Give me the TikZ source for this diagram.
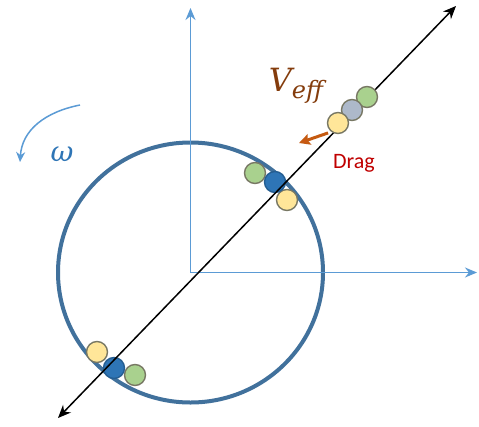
\documentclass[tikz,border=0pt]{standalone}
\usepackage{fontspec}
\newfontfamily\dragfont{Carlito}
\newfontfamily\symfont{DejaVu Serif}
\usepackage{tikz}
\usetikzlibrary{arrows.meta,positioning}
\definecolor{AxisBlue}{RGB}{91,155,213}
\definecolor{RingBlue}{RGB}{65,113,156}
\definecolor{BallGreen}{RGB}{169,209,142}
\definecolor{BallYellow}{RGB}{255,230,153}
\definecolor{BallGray}{RGB}{173,185,202}
\definecolor{BallBlue}{RGB}{46,117,182}
\definecolor{BallEdge}{RGB}{120,120,100}
\definecolor{DragOrange}{RGB}{197,90,17}
\definecolor{DragTip}{RGB}{230,70,30}
\definecolor{VeffBrown}{RGB}{132,60,12}
\definecolor{DragRed}{RGB}{192,0,0}
\begin{document}
\begin{tikzpicture}[x=1pt, y=-1pt,
    ball/.style={circle, draw=BallEdge, line width=1.4pt, minimum size=21pt, inner sep=0pt},
    axis/.style={-{Stealth[length=12pt,width=10pt]}, line width=1.6pt, AxisBlue},
    tube/.style={{Stealth[length=13pt,width=11pt]}-{Stealth[length=13pt,width=11pt]}, line width=1.5pt, black},
    lbl/.style={inner sep=0pt}
  ]
    \useasboundingbox[fill=white] (0,0) rectangle (479,426);

    % Rotating ring
    \coordinate (O) at (190.5,272.5);
    \draw[RingBlue, line width=4pt] (O) ellipse [x radius=132.5, y radius=130];

    % Axes
    \coordinate (ytip) at (190.5,8);
    \coordinate (xtip) at (477,272.5);
    \draw[axis] (O) -- (ytip);
    \draw[axis] (O) -- (xtip);

    % Particles resting on the ring
    \node[ball, fill=BallGreen] (gUp) at (255,173) {};
    \node[ball, fill=BallYellow] (yUp) at (287,200) {};
    \node[ball, fill=BallBlue, draw=BallBlue!80!black] (bUp) at (275,182) {};
    \node[ball, fill=BallYellow] (yLo) at (97,352) {};
    \node[ball, fill=BallGreen] (gLo) at (135,375) {};
    \node[ball, fill=BallBlue, draw=BallBlue!80!black] (bLo) at (114,368) {};

    % Tube axis
    \coordinate (tubeLo) at (58,418);
    \coordinate (tubeHi) at (456,6);
    \draw[tube] (tubeLo) -- (tubeHi);

    % Particles moving out along the tube
    \node[ball, fill=BallGreen] (gOut) at (367,97) {};
    \node[ball, fill=BallGray] (sOut) at (352,110) {};
    \node[ball, fill=BallYellow] (yOut) at (338,123) {};

    % Drag force
    \draw[-{Stealth[length=11pt,width=11pt,inset=2pt,fill=DragTip]}, line width=3pt, DragOrange] (yOut.south west) ++(-2,2) coordinate (dragStart) -- (299,143) coordinate (dragEnd);
    \node[lbl, font=\dragfont\fontsize{22}{24}\selectfont, text=DragRed] (drag) at (354,163) {Drag};
    \node[lbl, font=\symfont\itshape\fontsize{32}{36}\selectfont, text=VeffBrown] (veff) at (296,86) {V\raisebox{-7pt}{\fontsize{24}{26}\selectfont eff}};

    % Rotation
    \coordinate (rotStart) at (80,105);
    \coordinate (rotEnd) at (20,162);
    \draw[-{Stealth[length=10pt,width=9pt]}, line width=1.5pt, AxisBlue] (rotStart) .. controls (45,112) and (22,130) .. (rotEnd);
    \node[lbl, font=\symfont\itshape\fontsize{28}{32}\selectfont, text=BallBlue] (omega) at (62,154) {ω};
\end{tikzpicture}
\end{document}
